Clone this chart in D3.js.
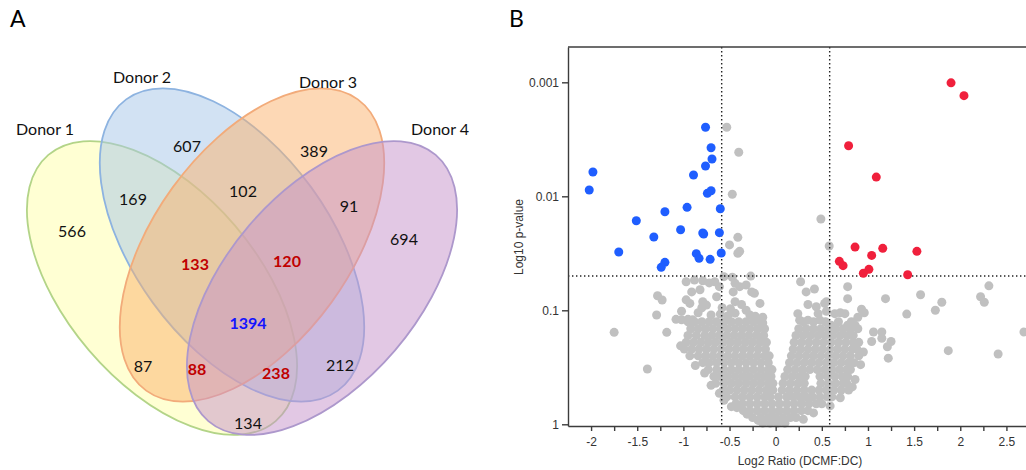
<!DOCTYPE html>
<html lang="en">
<head>
<meta charset="UTF-8">
<title>Venn + volcano</title>
<script src="https://cdnjs.cloudflare.com/ajax/libs/d3/7.8.5/d3.min.js"></script>
<style>
  body { margin: 0; background: #fff; }
  svg { display: block; }
</style>
</head>
<body>
<div id="wrapper"></div>
<script>
// ---------- panel A data ----------
const donors = ['Donor 1', 'Donor 2', 'Donor 3', 'Donor 4']
// region = which donors share the protein
const regionSets = ['1', '2', '3', '4', '12', '23', '34', '13', '24', '14', '123', '234', '134', '124', '1234']
const regionCounts = [566, 607, 389, 694, 169, 102, 91, 87, 212, 134, 133, 120, 88, 238, 1394]

// ---------- panel B data : [log2 ratio, p-value] ----------
const downRegulated = [
  [-0.76, 0.00248], [-0.70, 0.00375], [-0.69, 0.00471], [-0.76, 0.00542], [-0.89, 0.0065],
  [-1.98, 0.00612], [-2.02, 0.00881], [-0.74, 0.00942], [-0.70, 0.00893], [-0.60, 0.01285],
  [-0.96, 0.0125], [-1.20, 0.01365], [-1.51, 0.01637], [-1.03, 0.01963], [-1.32, 0.02275],
  [-0.79, 0.0210], [-0.78, 0.02143], [-0.61, 0.02084], [-1.70, 0.03083], [-0.86, 0.03184],
  [-0.83, 0.0350], [-0.71, 0.03573], [-0.59, 0.0314], [-1.20, 0.03793], [-1.24, 0.04198]
]
const upRegulated = [
  [1.90, 0.00101], [2.04, 0.00131], [0.79, 0.0036], [1.09, 0.00678], [0.86, 0.0279],
  [1.16, 0.0286], [1.53, 0.0304], [1.04, 0.0330], [0.69, 0.0372], [0.73, 0.0406],
  [1.01, 0.0437], [0.95, 0.0473], [1.43, 0.0488]
]
// scattered non-significant proteins (sparse part of the cloud and its ragged edges)
const sparsePoints = [
  [-0.97, 0.0562], [-0.88, 0.0543], [-0.79, 0.0550], [-0.72, 0.0575], [-0.66, 0.0562], [-0.56, 0.0507],
  [-0.47, 0.0513], [-0.27, 0.0501], [0.27, 0.0562], [-0.61, 0.062], [-0.91, 0.069], [-0.82, 0.066],
  [-0.64, 0.076], [-0.97, 0.081], [-0.93, 0.087], [-1.02, 0.102], [-0.79, 0.084], [-0.75, 0.090],
  [-0.80, 0.095], [-0.84, 0.105], [-1.08, 0.120], [-1.02, 0.121], [-0.95, 0.120], [-0.90, 0.121],
  [-0.44, 0.058], [-0.39, 0.062], [-0.32, 0.060], [-0.46, 0.069], [-0.44, 0.084], [-0.26, 0.069],
  [-0.23, 0.071], [-0.37, 0.089], [-0.32, 0.100], [-0.17, 0.087], [-0.14, 0.115], [-0.14, 0.129],
  [-0.19, 0.145], [-0.70, 0.110], [-0.60, 0.108], [-0.52, 0.112], [-0.44, 0.106], [-0.28, 0.110],
  [-0.22, 0.113], [-0.58, 0.095], [-0.49, 0.097],
  [0.33, 0.069], [0.42, 0.065], [0.78, 0.062], [0.78, 0.079], [0.35, 0.089], [0.44, 0.093],
  [0.53, 0.087], [0.55, 0.084], [0.46, 0.107], [0.55, 0.102], [0.64, 0.107], [0.75, 0.107],
  [0.24, 0.107], [0.26, 0.122], [0.93, 0.098], [0.96, 0.105], [0.89, 0.115], [0.86, 0.135],
  [0.78, 0.135], [0.35, 0.122], [0.48, 0.122], [0.60, 0.135], [0.68, 0.126], [0.70, 0.105],
  [1.06, 0.155], [1.15, 0.155], [1.04, 0.188], [1.15, 0.176], [1.25, 0.188], [1.21, 0.209], [1.22, 0.263],
  [-1.28, 0.0745], [-1.23, 0.0813], [-1.29, 0.110], [-1.18, 0.156], [-1.75, 0.156], [-1.39, 0.327],
  [1.19, 0.079], [1.42, 0.108], [1.57, 0.073], [1.73, 0.100], [1.80, 0.085], [2.22, 0.076],
  [2.26, 0.085], [2.31, 0.061], [1.87, 0.226], [2.41, 0.242], [2.69, 0.155],
  [-1.03, 0.205], [-0.87, 0.305], [-0.77, 0.355], [-0.70, 0.455], [-0.61, 0.535], [-0.56, 0.615],
  [-0.42, 0.715], [-0.31, 0.815], [-0.19, 0.925], [0.95, 0.232], [0.92, 0.300], [0.86, 0.405],
  [0.83, 0.470], [0.70, 0.585], [0.59, 0.690], [0.41, 0.795], [0.30, 0.905],
  // low p-value but small fold change
  [-0.53, 0.00248], [-0.40, 0.00411], [-0.47, 0.0096], [-0.41, 0.0229], [-0.50, 0.0267],
  [-0.39, 0.0304], [-0.41, 0.0316], [0.49, 0.0158], [0.58, 0.0273]
]
// dense part of the cloud, read row by row: [p-value, log2 ratios]
const cloudRows = [
  [0.126, [-0.95, -0.88, -0.80, -0.72, -0.64, -0.56, -0.48, -0.40, -0.32, -0.24, -0.16, 0.30, 0.41, 0.54, 0.82]],
  [0.145, [-0.92, -0.84, -0.76, -0.68, -0.60, -0.52, -0.44, -0.36, -0.28, -0.20, -0.12, 0.25, 0.33, 0.41, 0.49, 0.57, 0.65, 0.73, 0.81, 0.89]],
  [0.166, [-0.95, -0.86, -0.77, -0.69, -0.61, -0.53, -0.45, -0.37, -0.29, -0.21, -0.13, 0.22, 0.30, 0.38, 0.46, 0.54, 0.62, 0.70, 0.78, 0.84]],
  [0.191, [-0.97, -0.89, -0.81, -0.73, -0.65, -0.57, -0.49, -0.41, -0.33, -0.25, -0.17, -0.10, 0.20, 0.28, 0.36, 0.44, 0.52, 0.60, 0.68, 0.76, 0.84, 0.90]],
  [0.219, [-0.99, -0.91, -0.83, -0.75, -0.67, -0.59, -0.51, -0.43, -0.35, -0.27, -0.19, -0.11, 0.19, 0.27, 0.35, 0.43, 0.51, 0.59, 0.67, 0.75, 0.83, 0.88]],
  [0.251, [-0.93, -0.84, -0.76, -0.68, -0.60, -0.52, -0.44, -0.36, -0.28, -0.20, -0.12, -0.07, 0.17, 0.25, 0.33, 0.41, 0.49, 0.57, 0.65, 0.73, 0.81, 0.90]],
  [0.288, [-0.79, -0.72, -0.64, -0.56, -0.48, -0.40, -0.32, -0.24, -0.16, -0.08, 0.15, 0.23, 0.31, 0.39, 0.47, 0.55, 0.63, 0.71, 0.79, 0.85]],
  [0.331, [-0.73, -0.64, -0.56, -0.48, -0.40, -0.32, -0.24, -0.16, -0.08, -0.04, 0.13, 0.21, 0.29, 0.37, 0.45, 0.53, 0.61, 0.69, 0.77, 0.81]],
  [0.380, [-0.67, -0.60, -0.52, -0.44, -0.36, -0.28, -0.20, -0.12, -0.05, 0.10, 0.18, 0.26, 0.32, 0.48, 0.56, 0.64, 0.72, 0.78]],
  [0.437, [-0.65, -0.56, -0.48, -0.40, -0.32, -0.24, -0.16, -0.08, -0.03, 0.08, 0.16, 0.24, 0.31, 0.49, 0.57, 0.65, 0.73, 0.77]],
  [0.501, [-0.57, -0.50, -0.42, -0.34, -0.26, -0.18, -0.10, -0.03, 0.07, 0.15, 0.23, 0.31, 0.39, 0.47, 0.55, 0.63, 0.71, 0.79]],
  [0.575, [-0.53, -0.44, -0.36, -0.28, -0.20, -0.12, -0.06, 0.03, 0.12, 0.19, 0.26, 0.33, 0.40, 0.48, 0.56, 0.61]],
  [0.661, [-0.43, -0.36, -0.28, -0.20, -0.12, -0.04, 0.04, 0.12, 0.20, 0.28, 0.36, 0.44, 0.50]],
  [0.700, [-0.48]],
  [0.759, [-0.35, -0.28, -0.20, -0.12, -0.04, 0.04, 0.12, 0.20, 0.28, 0.35]],
  [0.871, [-0.25, -0.16, -0.08, 0.00, 0.08, 0.16, 0.22]],
  [0.977, [-0.14, -0.06, 0.02, 0.10]]
]
const foldCutoff = 0.585   // log2(1.5)
const pCutoff = 0.05
const xTicks = [-2, -1.75, -1.5, -1.25, -1, -0.75, -0.5, -0.25, 0, 0.25, 0.5, 0.75, 1, 1.25, 1.5, 1.75, 2, 2.25, 2.5, 2.75]
const yTicks = [0.001, 0.01, 0.1, 1]
const yTickLabels = ['0.001', '0.01', '0.1', '1']

// ---------- canvas ----------
const svg = d3.select('#wrapper')
  .append('svg')
    .attr('width', 1026)
    .attr('height', 470)
    .attr('viewBox', '0 0 1026 470')
    .style('background', '#fff')

// ---------- A: Venn ----------
const ellipseShapes = [
  { cx: 162, cy: 288, rx: 175, ry: 96, rot: 49.5, fill: '#ffffa8', stroke: '#b3d488' },
  { cx: 232, cy: 245, rx: 180, ry: 98, rot: 54, fill: '#a6c6e8', stroke: '#8db3e0' },
  { cx: 252, cy: 245, rx: 180, ry: 98, rot: -54, fill: '#fbb26c', stroke: '#f2ab7a' },
  { cx: 322, cy: 288, rx: 175, ry: 96, rot: -49.5, fill: '#c592c9', stroke: '#ad98cc' }
]
const donorLabelPos = [[45, 135], [142, 83], [328, 88], [440, 135]]
const regionLabelPos = {
  '1': [72, 231], '2': [187, 146], '3': [314, 151], '4': [404, 239],
  '12': [133, 199], '23': [243, 191], '34': [349, 206], '13': [143, 366],
  '24': [340, 365], '14': [248, 423], '123': [195, 264], '234': [287, 261],
  '134': [197, 369], '124': [276, 373], '1234': [248, 323]
}

const venn = svg.append('g').style('font-family', 'Lato, "Open Sans", sans-serif')

venn.selectAll('ellipse')
  .data(ellipseShapes)
  .join('ellipse')
    .attr('cx', d => d.cx)
    .attr('cy', d => d.cy)
    .attr('rx', d => d.rx)
    .attr('ry', d => d.ry)
    .attr('transform', d => `rotate(${d.rot} ${d.cx} ${d.cy})`)
    .attr('fill', d => d.fill)
    .attr('fill-opacity', 0.5)
    .attr('stroke', d => d.stroke)
    .attr('stroke-width', 1.8)

venn.selectAll('.donor')
  .data(donors)
  .join('text')
    .attr('class', 'donor')
    .attr('x', (d, i) => donorLabelPos[i][0])
    .attr('y', (d, i) => donorLabelPos[i][1])
    .attr('text-anchor', 'middle')
    .attr('font-size', 16)
    .attr('fill', '#111')
    .text(d => d)

const regionColor = s => s.length === 4 ? '#1414ff' : s.length === 3 ? '#c00000' : '#111'

venn.selectAll('.count')
  .data(regionSets)
  .join('text')
    .attr('class', 'count')
    .attr('x', d => regionLabelPos[d][0])
    .attr('y', d => regionLabelPos[d][1])
    .attr('dy', '0.36em')
    .attr('text-anchor', 'middle')
    .attr('font-size', 16)
    .attr('font-weight', d => d.length >= 3 ? 700 : 400)
    .attr('fill', regionColor)
    .text((d, i) => regionCounts[i])

svg.append('text')
  .attr('x', 10).attr('y', 27)
  .attr('font-family', 'Lato, sans-serif')
  .attr('font-size', 23)
  .text('A')

// ---------- B: volcano ----------
const plotLeft = 568, plotTop = 47, plotBottom = 426, plotRight = 1030
const xScale = d3.scaleLinear()
  .domain([-2.25, 2.75])
  .range([plotLeft, 1029.5])
const yScale = d3.scaleLog()
  .domain([1.035, 0.00049])
  .range([plotBottom, plotTop])

const plot = svg.append('g').style('font-family', '"Liberation Sans", Arial, sans-serif')

const cloudPoints = cloudRows.flatMap(([p, xs]) => xs.map(x => [x, p]))
const greyPoints = sparsePoints.concat(cloudPoints)

plot.append('g')
  .selectAll('circle')
  .data(greyPoints)
  .join('circle')
    .attr('cx', d => xScale(d[0]))
    .attr('cy', d => yScale(d[1]))
    .attr('r', 4.5)
    .attr('fill', '#c0c0c0')

// cut-off lines
const dotted = plot.append('g')
  .attr('stroke', '#222')
  .attr('stroke-width', 1.4)
  .attr('stroke-dasharray', '1.4 2.6')
dotted.selectAll('line.v')
  .data([-foldCutoff, foldCutoff])
  .join('line')
    .attr('class', 'v')
    .attr('x1', d => xScale(d)).attr('x2', d => xScale(d))
    .attr('y1', plotTop).attr('y2', plotBottom)
dotted.append('line')
  .attr('x1', plotLeft).attr('x2', plotRight)
  .attr('y1', yScale(pCutoff)).attr('y2', yScale(pCutoff))

plot.append('g')
  .selectAll('circle')
  .data(downRegulated)
  .join('circle')
    .attr('cx', d => xScale(d[0]))
    .attr('cy', d => yScale(d[1]))
    .attr('r', 4.5)
    .attr('fill', '#1f5eff')

plot.append('g')
  .selectAll('circle')
  .data(upRegulated)
  .join('circle')
    .attr('cx', d => xScale(d[0]))
    .attr('cy', d => yScale(d[1]))
    .attr('r', 4.5)
    .attr('fill', '#f0203c')

// axes
const isHalf = d => Math.abs(d * 2 - Math.round(d * 2)) < 1e-9
const xAxisGenerator = d3.axisBottom(xScale)
  .tickValues(xTicks)
  .tickSize(5)
  .tickSizeOuter(0)
  .tickPadding(6)
  .tickFormat(d => isHalf(d) ? String(d) : '')
const yAxisGenerator = d3.axisLeft(yScale)
  .tickValues(yTicks)
  .tickSize(6)
  .tickSizeOuter(0)
  .tickPadding(3)
  .tickFormat((d, i) => yTickLabels[i])

const xAxis = plot.append('g')
  .attr('transform', `translate(0, ${plotBottom})`)
  .call(xAxisGenerator)
const yAxis = plot.append('g')
  .attr('transform', `translate(${plotLeft}, 0)`)
  .call(yAxisGenerator)

;[xAxis, yAxis].forEach(a => {
  a.selectAll('path, line').attr('stroke', '#3c3c3c').attr('stroke-width', 1.4)
  a.selectAll('text').attr('font-size', 12).attr('fill', '#333').attr('font-family', '"Liberation Sans", Arial, sans-serif')
})

plot.append('line')
  .attr('x1', plotLeft).attr('x2', plotRight)
  .attr('y1', plotTop).attr('y2', plotTop)
  .attr('stroke', '#3c3c3c').attr('stroke-width', 1.4)

plot.append('text')
  .attr('transform', 'translate(523, 237) rotate(-90)')
  .attr('text-anchor', 'middle')
  .attr('font-size', 12)
  .attr('fill', '#333')
  .text('Log10 p-value')

plot.append('text')
  .attr('x', 800).attr('y', 465)
  .attr('text-anchor', 'middle')
  .attr('font-size', 12)
  .attr('fill', '#333')
  .text('Log2 Ratio (DCMF:DC)')

svg.append('text')
  .attr('x', 509).attr('y', 27)
  .attr('font-family', 'Lato, sans-serif')
  .attr('font-size', 23)
  .text('B')
</script>
</body>
</html>
